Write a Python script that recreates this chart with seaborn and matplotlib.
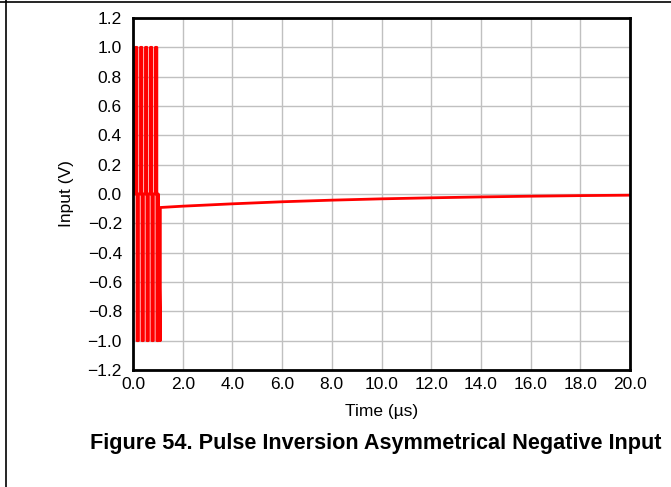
import numpy as np
import pandas as pd
import matplotlib
matplotlib.use("Agg")
import matplotlib.pyplot as plt
import seaborn as sns
from matplotlib.lines import Line2D

# ---- data ----
pulse_starts = [0.10, 0.30, 0.50, 0.70, 0.90]   # µs
pulse_high = 1.0
pulse_low = -1.0
pulse_width = 0.06
tail_t = [1.10, 2.0, 3.0, 4.0, 6.0, 8.0, 10.0, 12.0, 14.0, 16.0, 18.0, 20.0]
tail_v = [-0.092, -0.083, -0.075, -0.067, -0.053, -0.042, -0.033, -0.026, -0.020, -0.015, -0.011, -0.008]
x_ticks = [0, 2, 4, 6, 8, 10, 12, 14, 16, 18, 20]
y_ticks = [1.2, 1.0, 0.8, 0.6, 0.4, 0.2, 0.0, -0.2, -0.4, -0.6, -0.8, -1.0, -1.2]

t = [0.0]
v = [0.0]
for s in pulse_starts:
    t += [s, s, s + pulse_width, s + pulse_width, s + 2 * pulse_width, s + 2 * pulse_width]
    v += [0.0, pulse_high, pulse_high, pulse_low, pulse_low, 0.0]
t += [tail_t[0], tail_t[0]]
v += [pulse_low, tail_v[0]]
t += tail_t[1:]
v += tail_v[1:]
df = pd.DataFrame({"t": t, "v": v})

sns.set_theme(style="white")
plt.rcParams['font.family'] = ['Liberation Sans', 'DejaVu Sans']

fig = plt.figure(figsize=(6.71, 4.87), dpi=100)
ax = fig.add_axes([133/671, 1 - 370/487, (630-133)/671, (370-18)/487])

sns.lineplot(data=df, x="t", y="v", sort=False, estimator=None, color="#ff0000",
             linewidth=2.0, ax=ax)

ax.set_xlim(0, 20)
ax.set_ylim(-1.2, 1.2)
ax.set_xticks(x_ticks)
ax.set_xticklabels([f"{x:.1f}" for x in x_ticks])
ax.set_yticks(y_ticks)
ax.set_yticklabels([f"{y:.1f}".replace("-", "\u2212") for y in y_ticks])
ax.grid(True, color="#c0c0c0", linewidth=1.0)
ax.set_axisbelow(True)
for sp in ax.spines.values():
    sp.set_color("black")
    sp.set_linewidth(2.0)
ax.tick_params(axis="both", length=0, labelsize=12.5, colors="black")
ax.tick_params(axis="x", pad=5)
ax.tick_params(axis="y", pad=8)
ax.set_xlabel("Time (\u00b5s)", fontsize=12.5, color="black", labelpad=9)
ax.set_ylabel("Input (V)", fontsize=12.5, color="black", labelpad=10)

fig.text(376/671, 1 - 444/487, "Figure 54. Pulse Inversion Asymmetrical Negative Input",
         ha="center", va="center", fontsize=15.6, fontweight="bold", color="black")

# page frame lines
fig.add_artist(Line2D([0, 1], [1 - 1.5/487, 1 - 1.5/487], transform=fig.transFigure, color="black", linewidth=1.2))
fig.add_artist(Line2D([6/671, 6/671], [0, 1], transform=fig.transFigure, color="black", linewidth=1.2))

fig.savefig("out.png", dpi=100)
